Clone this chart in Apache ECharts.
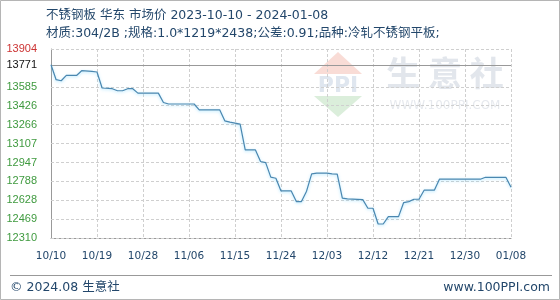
<!DOCTYPE html>
<html><head><meta charset="utf-8">
<script src="https://cdn.jsdelivr.net/npm/echarts@6/dist/echarts.min.js"></script>
<style>html,body{margin:0;padding:0;background:#fff}#c{width:560px;height:300px}</style>
</head><body><div id="c"></div>
<script>
const titleText = '不锈钢板 华东 市场价 2023-10-10 - 2024-01-08';
const subtitleText = '材质:304/2B ;规格:1.0*1219*2438;公差:0.91;品种:冷轧不锈钢平板;';
const footerLeft = '© 2024.08 生意社';
const footerRight = 'www.100PPI.com';
const xTickLabels = ['10/10','10/19','10/28','11/06','11/15','11/24','12/03','12/12','12/21','12/30','01/08'];
// day offsets from 2023-10-10
const dayOffsets = [0,1,2,3,5,6,8,9,10,12,13,14,15,16,17,21,22,23,28,29,33,34,35,37,38,40,41,42,43,44,45,47,48,49,50,51,52,54,55,56,57,58,61,62,63,64,65,66,68,69,70,71,72,73,75,76,84,85,89,90];
const prices = [13771,13645,13636,13681,13681,13721,13715,13710,13575,13569,13552,13552,13569,13569,13532,13532,13453,13440,13440,13391,13391,13298,13287,13270,13053,13053,12955,12946,12823,12814,12707,12707,12617,12617,12705,12851,12857,12857,12851,12848,12646,12640,12634,12561,12561,12428,12428,12490,12490,12609,12617,12637,12637,12713,12713,12806,12806,12822,12822,12738];
const yTicks = [12310,12469,12628,12788,12947,13107,13266,13426,13585,13771,13904];
const pctLabels = ['-10.61%','-9.45%','-8.30%','-7.14%','-5.98%','-4.82%','-3.67%','-2.51%','-1.35%','0.00%','0.96%'];
const basePrice = 13771;

const GREEN = '#3f9a3f', RED = '#cc3333', BLACK = '#111';
function tickColor(v){ return v > basePrice ? RED : (v === basePrice ? BLACK : GREEN); }

const seriesData = dayOffsets.map((d,i)=>[d, prices[i]]);
const markData = [];
yTicks.forEach((v,i)=>{
  const isBase = v === basePrice;
  markData.push({
    yAxis: v,
    lineStyle: isBase ? {color:'#999', type:'solid', width:1} : {color:'#cfcfcf', type:[3,2], width:1},
    label: {show:true, position:'start', distance:14, formatter:String(v), color:tickColor(v),
      fontFamily:'Liberation Sans, Arial, sans-serif', fontSize:11}
  });
  markData.push({
    yAxis: v,
    lineStyle: {opacity:0},
    label: {show:true, position:'end', distance:4, formatter:pctLabels[i], color:tickColor(v),
      fontFamily:'DejaVu Sans Mono, monospace', fontSize:10}
  });
});

const chart = echarts.init(document.getElementById('c'), null, {renderer:'canvas'});
const NAVY = '#23476b';
chart.setOption({
  animation:false,
  backgroundColor:'#fff',
  grid:{left:51, right:49, top:49, bottom:62},
  xAxis:{type:'value', min:0, max:90, interval:9,
    axisLine:{show:true, lineStyle:{color:'#999'}},
    axisTick:{show:false},
    axisLabel:{margin:13, color:NAVY, fontSize:10.5, fontFamily:'DejaVu Sans, sans-serif',
      formatter:(v)=>xTickLabels[Math.round(v/9)]},
    splitLine:{show:true, lineStyle:{color:'#cfcfcf', type:[3,2]}}
  },
  yAxis:{type:'value', min:12310, max:13904,
    axisLine:{show:true, lineStyle:{color:'#999'}},
    axisTick:{show:false}, axisLabel:{show:false}, splitLine:{show:false}
  },
  graphic:[
    {type:'rect', shape:{x:0.5,y:0.5,width:559,height:299}, style:{fill:'none', stroke:'#b5b5b5', lineWidth:1}, silent:true, z:-10},
    // watermark
    {type:'group', silent:true, z:-5, children:[
      {type:'polygon', shape:{points:[[338,52],[362,74],[314,74]]}, style:{fill:'#f9dcd6'}},
      {type:'polygon', shape:{points:[[314,96],[362,96],[338,117]]}, style:{fill:'#dbeedb'}},
      {type:'text', style:{x:338, y:86, text:'PPI', fill:'#dfe6ef', font:'bold 22px DejaVu Sans', align:'center', verticalAlign:'middle'}},
      {type:'text', style:{x:445, y:73, text:'生 意 社', fill:'#e2e6ec', font:'bold 34px "Noto Sans CJK SC"', align:'center', verticalAlign:'middle'}},
      {type:'text', style:{x:445, y:106, text:'WWW.100PPI.COM', fill:'#e6e9ee', font:'12px DejaVu Sans', align:'center', verticalAlign:'middle'}}
    ]},
    {type:'text', style:{x:46, y:16, text:titleText, fill:NAVY, font:'12.5px "DejaVu Sans", "Noto Sans CJK SC"', verticalAlign:'middle'}},
    {type:'text', style:{x:46, y:34, text:subtitleText, fill:NAVY, font:'12.5px "DejaVu Sans", "Noto Sans CJK SC"', verticalAlign:'middle'}},
    {type:'line', shape:{x1:10, y1:275.5, x2:552, y2:275.5}, style:{stroke:'#999', lineWidth:1}},
    {type:'text', style:{x:10, y:288, text:footerLeft, fill:NAVY, font:'12.5px "DejaVu Sans", "Noto Sans CJK SC"', verticalAlign:'middle'}},
    {type:'text', style:{x:550, y:288, text:footerRight, fill:NAVY, font:'12.5px "DejaVu Sans", "Noto Sans CJK SC"', align:'right', verticalAlign:'middle'}}
  ],
  series:[{
    type:'line', data:seriesData, symbol:'none', z:5,
    lineStyle:{color:'#4a87b0', width:1.2, shadowColor:'rgba(130,215,255,0.7)', shadowBlur:3, shadowOffsetY:1},
    markLine:{silent:true, symbol:['none','none'], animation:false, data:markData, z:1}
  }]
});
</script></body></html>
